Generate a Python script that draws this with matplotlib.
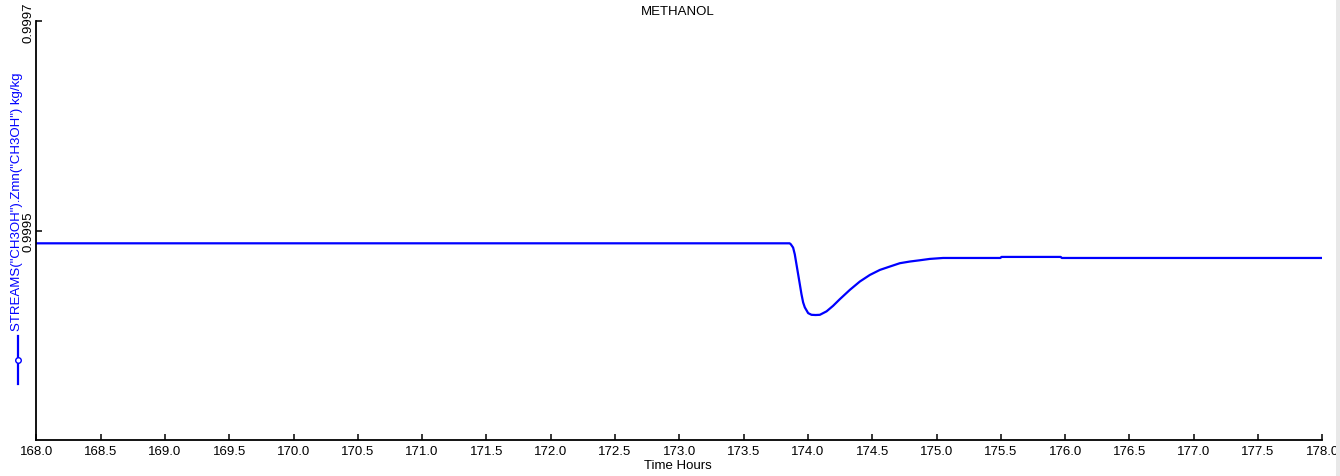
import matplotlib
matplotlib.use("Agg")
import matplotlib.pyplot as plt
from matplotlib.lines import Line2D
from matplotlib.patches import Rectangle

plt.rcParams['font.family'] = ['Liberation Sans', 'DejaVu Sans']

# Data (time in hours, mass fraction kg/kg)
time_hours = [168.0, 173.858, 173.867, 173.885, 173.898, 173.911, 173.924, 173.937,
              173.950, 173.963, 173.976, 174.002, 174.028, 174.060, 174.093, 174.145,
              174.196, 174.248, 174.326, 174.404, 174.482, 174.560, 174.637, 174.715,
              174.793, 174.870, 174.948, 175.051, 175.181, 175.497, 175.505, 175.966,
              175.974, 178.0]
methanol_frac = [0.9994879, 0.9994879, 0.9994870, 0.9994838, 0.9994774, 0.9994679,
                 0.9994584, 0.9994489, 0.9994393, 0.9994314, 0.9994267, 0.9994212,
                 0.9994196, 0.9994194, 0.9994196, 0.9994229, 0.9994282, 0.9994345,
                 0.9994434, 0.9994514, 0.9994577, 0.9994625, 0.9994657, 0.9994689,
                 0.9994705, 0.9994717, 0.9994730, 0.9994739, 0.9994739, 0.9994739,
                 0.9994749, 0.9994749, 0.9994739, 0.9994739]

x_ticks = [168.0, 168.5, 169.0, 169.5, 170.0, 170.5, 171.0, 171.5, 172.0, 172.5,
           173.0, 173.5, 174.0, 174.5, 175.0, 175.5, 176.0, 176.5, 177.0, 177.5, 178.0]
y_ticks = [0.9995, 0.9997]
x_range = (168.0, 178.0)
y_range = (0.9993, 0.9997)

title = "METHANOL"
x_label = "Time Hours"
y_label = 'STREAMS("CH3OH").Zmn("CH3OH") kg/kg'

W, H = 1340, 477
fig = plt.figure(figsize=(W / 100, H / 100), dpi=100)
ax = fig.add_axes([36.3 / W, 1 - 441 / H, (1322.3 - 36.3) / W, (441 - 22.3) / H])

ax.plot(time_hours, methanol_frac, color='#0000ff', lw=1.6, solid_joinstyle='round')

ax.set_xlim(*x_range)
ax.set_ylim(*y_range)
ax.set_xticks(x_ticks)
ax.set_xticklabels([f"{t:.1f}" for t in x_ticks])
ax.set_yticks(y_ticks)
ax.set_yticklabels([f"{t:.4f}" for t in y_ticks], rotation=90, va='center')

for s in ['top', 'right']:
    ax.spines[s].set_visible(False)
for s in ['left', 'bottom']:
    ax.spines[s].set_linewidth(1.3)
    ax.spines[s].set_color('black')

ax.tick_params(axis='both', direction='in', length=4, width=1.1, labelsize=9.5,
               colors='black')
ax.tick_params(axis='x', pad=3.5)
ax.tick_params(axis='y', pad=1)

fig.text(677.5 / W, 1 - 12 / H, title, ha='center', va='center', fontsize=9.5)
fig.text(677.5 / W, 1 - 466.5 / H, x_label, ha='center', va='center', fontsize=9.5)
fig.text(17.5 / W, 1 - 331 / H, y_label, ha='center', va='bottom', rotation=90,
         fontsize=9.5, color='#0000ff')

# legend symbol below the y label
fig.add_artist(Line2D([18 / W, 18 / W], [1 - 337 / H, 1 - 385 / H],
                      transform=fig.transFigure, color='#0000ff', lw=1.6))
fig.add_artist(Line2D([18 / W], [1 - 361 / H], transform=fig.transFigure,
                      marker='o', markersize=4, markerfacecolor='white',
                      markeredgecolor='#0000ff', markeredgewidth=1, linestyle='none'))

# light grey frame edge on the right
fig.add_artist(Rectangle((1336 / W, 0), 4 / W, 1, transform=fig.transFigure,
                         facecolor='#e8e8e8', edgecolor='none'))

fig.savefig('out.png', dpi=100)
